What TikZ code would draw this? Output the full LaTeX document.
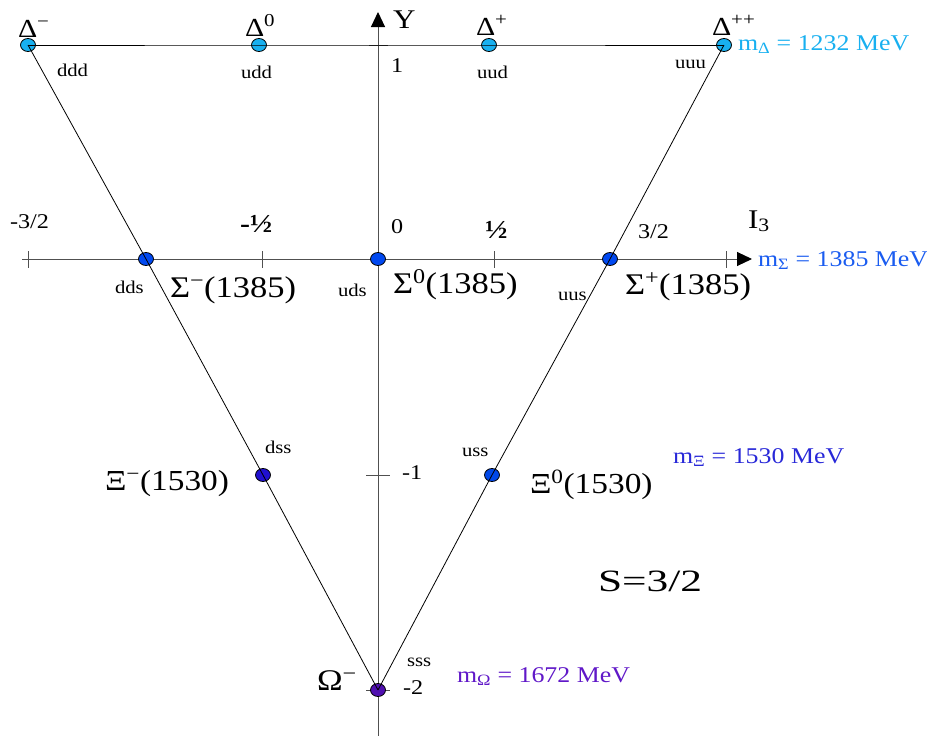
\documentclass[tikz,border=0pt]{standalone}
\usepackage{fontspec}
\setmainfont[FakeStretch=1.15]{Liberation Serif}
\usetikzlibrary{shapes.geometric,arrows.meta}
\definecolor{cDelta}{HTML}{18B0F0}
\definecolor{cSigma}{HTML}{0048F0}
\definecolor{cSigmaT}{HTML}{1A5CF0}
\definecolor{cXiM}{HTML}{2010D0}
\definecolor{cXiZ}{HTML}{0048E8}
\definecolor{cXiT}{HTML}{2828D8}
\definecolor{cOmega}{HTML}{5010B0}
\definecolor{cOmegaT}{HTML}{6018C8}
\definecolor{axisgray}{HTML}{505050}
\newcommand{\fs}[1]{\fontsize{#1}{#1}\selectfont}
\tikzset{
  dot/.style={ellipse,draw=black,line width=0.8pt,minimum width=15pt,minimum height=13pt,inner sep=0pt},
  lbl/.style={anchor=base west,inner sep=0pt,outer sep=0pt},
  quark/.style={lbl,font=\fs{18}},
  part/.style={lbl,font=\fs{30}},
  delta/.style={lbl,font=\fs{26}},
  num/.style={lbl,font=\fs{21}},
  mass/.style={lbl,font=\fs{22.5}},
  axis/.style={draw=axisgray,line width=1pt},
  tick/.style={draw=axisgray,line width=0.8pt},
  side/.style={draw=black,line width=0.8pt},
  axtip/.style={-{Triangle[length=15pt,width=14pt,color=black,fill=black]}},
}
\begin{document}
\begin{tikzpicture}[x=1pt,y=-1pt]
\useasboundingbox (0,0) rectangle (927,736);
% axes
\coordinate (yb) at (378,736);
\coordinate (yt) at (378,12);
\coordinate (xl) at (22,259);
\coordinate (xr) at (752,259);
\draw[axis,axtip] (yb) -- (yt);
\draw[axis,axtip] (xl) -- (xr);
% ticks
\foreach \x in {28,262,494,726} \draw[tick] (\x,251) -- (\x,268);
\foreach \y in {45} \draw[tick] (369,\y) -- (388,\y);
\foreach \y in {475,690} \draw[tick] (366,\y) -- (390,\y);
% dots
\node[dot,fill=cDelta] (dm) at (28,45) {};
\node[dot,fill=cDelta] (d0) at (259,45) {};
\node[dot,fill=cDelta] (dp) at (489,45) {};
\node[dot,fill=cDelta] (dpp) at (724,45) {};
\node[dot,fill=cSigma] (sm) at (146,259) {};
\node[dot,fill=cSigma] (s0) at (378,259) {};
\node[dot,fill=cSigma] (sp) at (610,259) {};
\node[dot,fill=cXiM] (xm) at (263,475) {};
\node[dot,fill=cXiZ] (x0) at (492,475) {};
\node[dot,fill=cOmega] (om) at (378,690) {};
% triangle sides
\draw[side] (dm.center) -- (d0.center) -- (dp.center) -- (dpp.center);
\draw[side] (dm.center) -- (sm.center) -- (xm.center) -- (om.center);
\draw[side] (dpp.center) -- (sp.center) -- (x0.center) -- (om.center);
% axis labels
\node[lbl,font=\fs{27}] (ylab) at (393,28) {Y};
\node[lbl,font=\fs{27}] (i3lab) at (748,228) {I\textsubscript{3}};
\node[num] (n1) at (391,72) {1};
\node[num] (nm32) at (10,228) {-3/2};
\node[num,font=\fs{26}\bfseries] (nm12) at (240,232) {-½};
\node[num] (n0) at (391,233) {0};
\node[num,font=\fs{26}\bfseries] (n12) at (485,238) {½};
\node[num] (n32) at (638,238) {3/2};
\node[num] (nm1) at (402,479) {-1};
\node[num] (nm2) at (403,694) {-2};
% particle labels
\node[delta] (ldm) at (18,37) {Δ\textsuperscript{−}};
\node[delta] (ld0) at (245,36) {Δ\textsuperscript{0}};
\node[delta] (ldp) at (476,35) {Δ\textsuperscript{+}};
\node[delta] (ldpp) at (712,35) {Δ\textsuperscript{++}};
\node[part] (lsm) at (170,297) {Σ\textsuperscript{−}(1385)};
\node[part] (ls0) at (393,293) {Σ\textsuperscript{0}(1385)};
\node[part] (lsp) at (625,294) {Σ\textsuperscript{+}(1385)};
\node[part,font=\fs{29}] (lxm) at (105,490) {Ξ\textsuperscript{−}(1530)};
\node[part,font=\fs{29}] (lx0) at (530,493) {Ξ\textsuperscript{0}(1530)};
\node[part] (lom) at (317,690) {Ω\textsuperscript{−}};
% quark content
\node[quark] (qddd) at (57,76) {ddd};
\node[quark] (qudd) at (241,78) {udd};
\node[quark] (quud) at (477,78) {uud};
\node[quark] (quuu) at (675,68) {uuu};
\node[quark] (qdds) at (115,293) {dds};
\node[quark] (quds) at (338,296) {uds};
\node[quark] (quus) at (558,300) {uus};
\node[quark] (qdss) at (265,453) {dss};
\node[quark] (quss) at (462,456) {uss};
\node[quark] (qsss) at (407,666) {sss};
% masses
\node[mass,text=cDelta] (mD) at (738,50) {m\textsubscript{Δ} = 1232 MeV};
\node[mass,text=cSigmaT] (mS) at (758,266) {m\textsubscript{Σ} = 1385 MeV};
\node[mass,text=cXiT] (mX) at (673,463) {m\textsubscript{Ξ} = 1530 MeV};
\node[mass,text=cOmegaT] (mO) at (457,682) {m\textsubscript{Ω} = 1672 MeV};
\node[lbl,font=\fs{31}\addfontfeature{FakeStretch=1.4}] (spin) at (598,591) {S=3/2};
\end{tikzpicture}
\end{document}
